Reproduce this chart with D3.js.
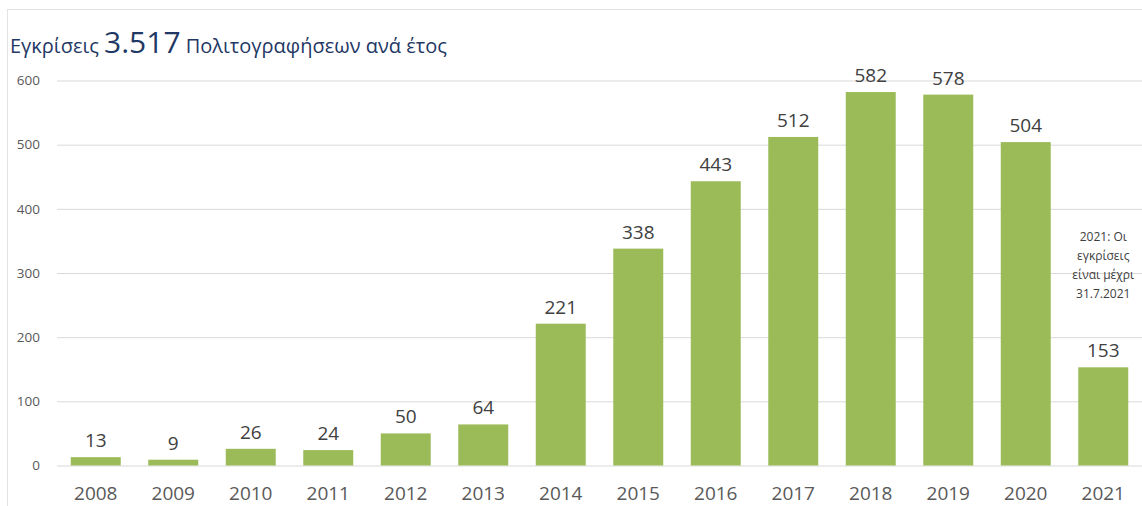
<!DOCTYPE html>
<html>
<head>
<meta charset="utf-8">
<script src="https://cdn.jsdelivr.net/npm/d3@7"></script>
<style>
  html, body { margin: 0; padding: 0; background: #fff; }
  svg { display: block; }
  text { font-family: "Open Sans", "Noto Sans", sans-serif; }
</style>
</head>
<body>
<svg id="chart" width="1142" height="506"></svg>
<script>
const years = ["2008","2009","2010","2011","2012","2013","2014","2015","2016","2017","2018","2019","2020","2021"];
const approvals = [13, 9, 26, 24, 50, 64, 221, 338, 443, 512, 582, 578, 504, 153];
const yTicks = [0, 100, 200, 300, 400, 500, 600];
const titleParts = ["Εγκρίσεις ", "3.517", " Πολιτογραφήσεων ανά έτος"];
const noteLines = ["2021: Οι", "εγκρίσεις", "είναι μέχρι", "31.7.2021"];

(function () {
const svg = d3.select("#chart");
const W = 1142, H = 506;
const pLeft = 57, pRight = 1142, pTop = 80.5, pBottom = 465.5;

// frame
svg.append("line").attr("x1", 7).attr("x2", W).attr("y1", 9.5).attr("y2", 9.5)
  .attr("stroke", "#e3e3e3").attr("stroke-width", 1);
svg.append("line").attr("x1", 7.5).attr("x2", 7.5).attr("y1", 9).attr("y2", H)
  .attr("stroke", "#e3e3e3").attr("stroke-width", 1);

const x = d3.scaleBand().domain(years).range([pLeft, pRight]).paddingInner(0.355).paddingOuter(0.1775);
const y = d3.scaleLinear().domain([0, 600]).range([pBottom, pTop]);

// gridlines
const yAxis = d3.axisLeft(y).tickValues(yTicks).tickSize(-(pRight - pLeft)).tickPadding(17);
const gy = svg.append("g").attr("transform", `translate(${pLeft},0)`).call(yAxis);
gy.select(".domain").remove();
gy.selectAll(".tick line").attr("stroke", "#d9d9d9");
gy.selectAll(".tick text").attr("fill", "#595959").attr("font-size", 13.5);

// bars
svg.append("g").selectAll("rect").data(approvals).join("rect")
  .attr("x", (d, i) => x(years[i]))
  .attr("width", x.bandwidth())
  .attr("y", d => y(d))
  .attr("height", d => y(0) - y(d))
  .attr("fill", "#9BBB59");

// value labels
svg.append("g").selectAll("text").data(approvals).join("text")
  .attr("x", (d, i) => x(years[i]) + x.bandwidth() / 2)
  .attr("y", d => y(d) - 10)
  .attr("text-anchor", "middle")
  .attr("fill", "#404040")
  .attr("font-size", 19)
  .text(d => d);

// x axis labels
const xAxis = d3.axisBottom(x).tickSize(0).tickPadding(21);
const gx = svg.append("g").attr("transform", `translate(0,${pBottom})`).call(xAxis);
gx.select(".domain").remove();
gx.selectAll(".tick text").attr("fill", "#595959").attr("font-size", 19);

// title
const t = svg.append("text").attr("x", 10).attr("y", 53).attr("fill", "#1F3864");
t.append("tspan").attr("font-size", 20).text(titleParts[0]);
t.append("tspan").attr("font-size", 30).text(titleParts[1]);
t.append("tspan").attr("font-size", 20).text(titleParts[2]);

// annotation
const nx = x("2021") + x.bandwidth() / 2;
svg.append("g").selectAll("text").data(noteLines).join("text")
  .attr("x", nx)
  .attr("y", (d, i) => 241 + i * 19)
  .attr("text-anchor", "middle")
  .attr("fill", "#404040")
  .attr("font-size", 12)
  .text(d => d);
})();
</script>
</body>
</html>
